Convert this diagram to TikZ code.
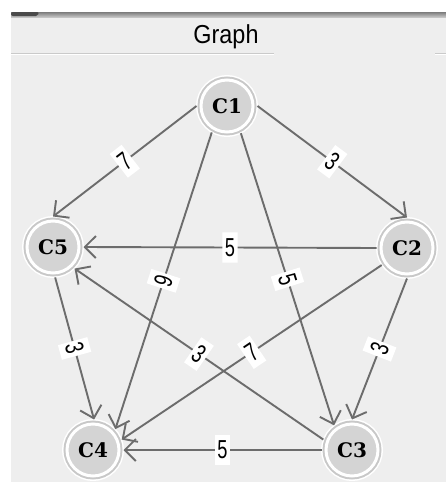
\documentclass[tikz,border=0pt]{standalone}
\usepackage{fontspec}
\usetikzlibrary{arrows.meta}

\newfontfamily\titlefont{Liberation Sans}[FakeStretch=0.9]
\newfontfamily\weightfont{Liberation Sans}[FakeStretch=0.7]
\newfontfamily\vertexfont{DejaVu Serif}

\definecolor{panelbg}{HTML}{EEEEEE}
\definecolor{vertexfill}{HTML}{D4D4D4}
\definecolor{ringgray}{HTML}{C8C8C8}
\definecolor{linkgray}{HTML}{6C6C6C}
\definecolor{sepgray}{HTML}{CACACA}
\definecolor{tabdark}{HTML}{4A4A4A}
\definecolor{bartop}{HTML}{7C7C7C}
\definecolor{barbottom}{HTML}{C4C4C4}

\begin{document}
\begin{tikzpicture}[x=1pt,y=-1pt,
  vertex/.style={circle, minimum size=52pt, inner sep=0pt, outer sep=4.5pt,
    fill=vertexfill, draw=white, line width=3pt,
    preaction={draw=white, line width=10pt},
    preaction={draw=ringgray, line width=7pt},
    font=\vertexfont\bfseries\fontsize{20}{20}\selectfont},
  link/.style={draw=linkgray, line width=1.9pt,
    -{Straight Barb[length=11pt,width=22pt,line width=1.9pt]}},
  wt/.style={fill=white, midway, sloped, inner xsep=2.5pt, inner ysep=6pt,
    text=black, font=\weightfont\fontsize{26}{26}\selectfont}]
  \useasboundingbox (0,0) rectangle (446,482);

  % panel background and frame
  \fill[white] (0,0) rectangle (446,482);
  \fill[panelbg] (11,16) rectangle (446,482);
  \shade[top color=bartop, bottom color=barbottom] (11,12) rectangle (446,17);
  \fill[tabdark, rounded corners=2pt] (11,12) -- (39,12) -- (38,16) -- (11,16) -- cycle;

  % title and its separator
  \node[font=\titlefont\fontsize{26}{26}\selectfont, anchor=base] (title) at (226,43) {Graph};
  \draw[sepgray, line width=1pt] (11,53.5) -- (274,53.5);
  \draw[white, line width=1pt] (11,54.5) -- (274,54.5);
  \draw[sepgray, line width=1pt] (435,53.5) -- (446,53.5);
  \draw[white, line width=1pt] (435,54.5) -- (446,54.5);

  % vertices
  \node[vertex] (C1) at (227,106) {C1};
  \node[vertex] (C2) at (407,248) {C2};
  \node[vertex] (C3) at (352,450) {C3};
  \node[vertex] (C4) at (93,450) {C4};
  \node[vertex] (C5) at (53,247) {C5};

  % weighted directed edges
  \draw[link] (C1.180) -- node[wt]{7} (C5.90);
  \draw[link] (C1.0)   -- node[wt]{3} (C2.90);
  \draw[link] (C2.180) -- node[wt]{5} (C5.0);
  \draw[link] (C1.240) -- node[wt]{9} (C4.43);
  \draw[link] (C1.297) -- node[wt]{5} (C3.126);
  \draw[link] (C5.274) -- node[wt]{3} (C4.88);
  \draw[link] (C3.160) -- node[wt]{3} (C5.315);
  \draw[link] (C2.214) -- node[wt]{7} (C4.20);
  \draw[link] (C2.270) -- node[wt]{3} (C3.90);
  \draw[link] (C3.180) -- node[wt]{5} (C4.0);
\end{tikzpicture}
\end{document}
